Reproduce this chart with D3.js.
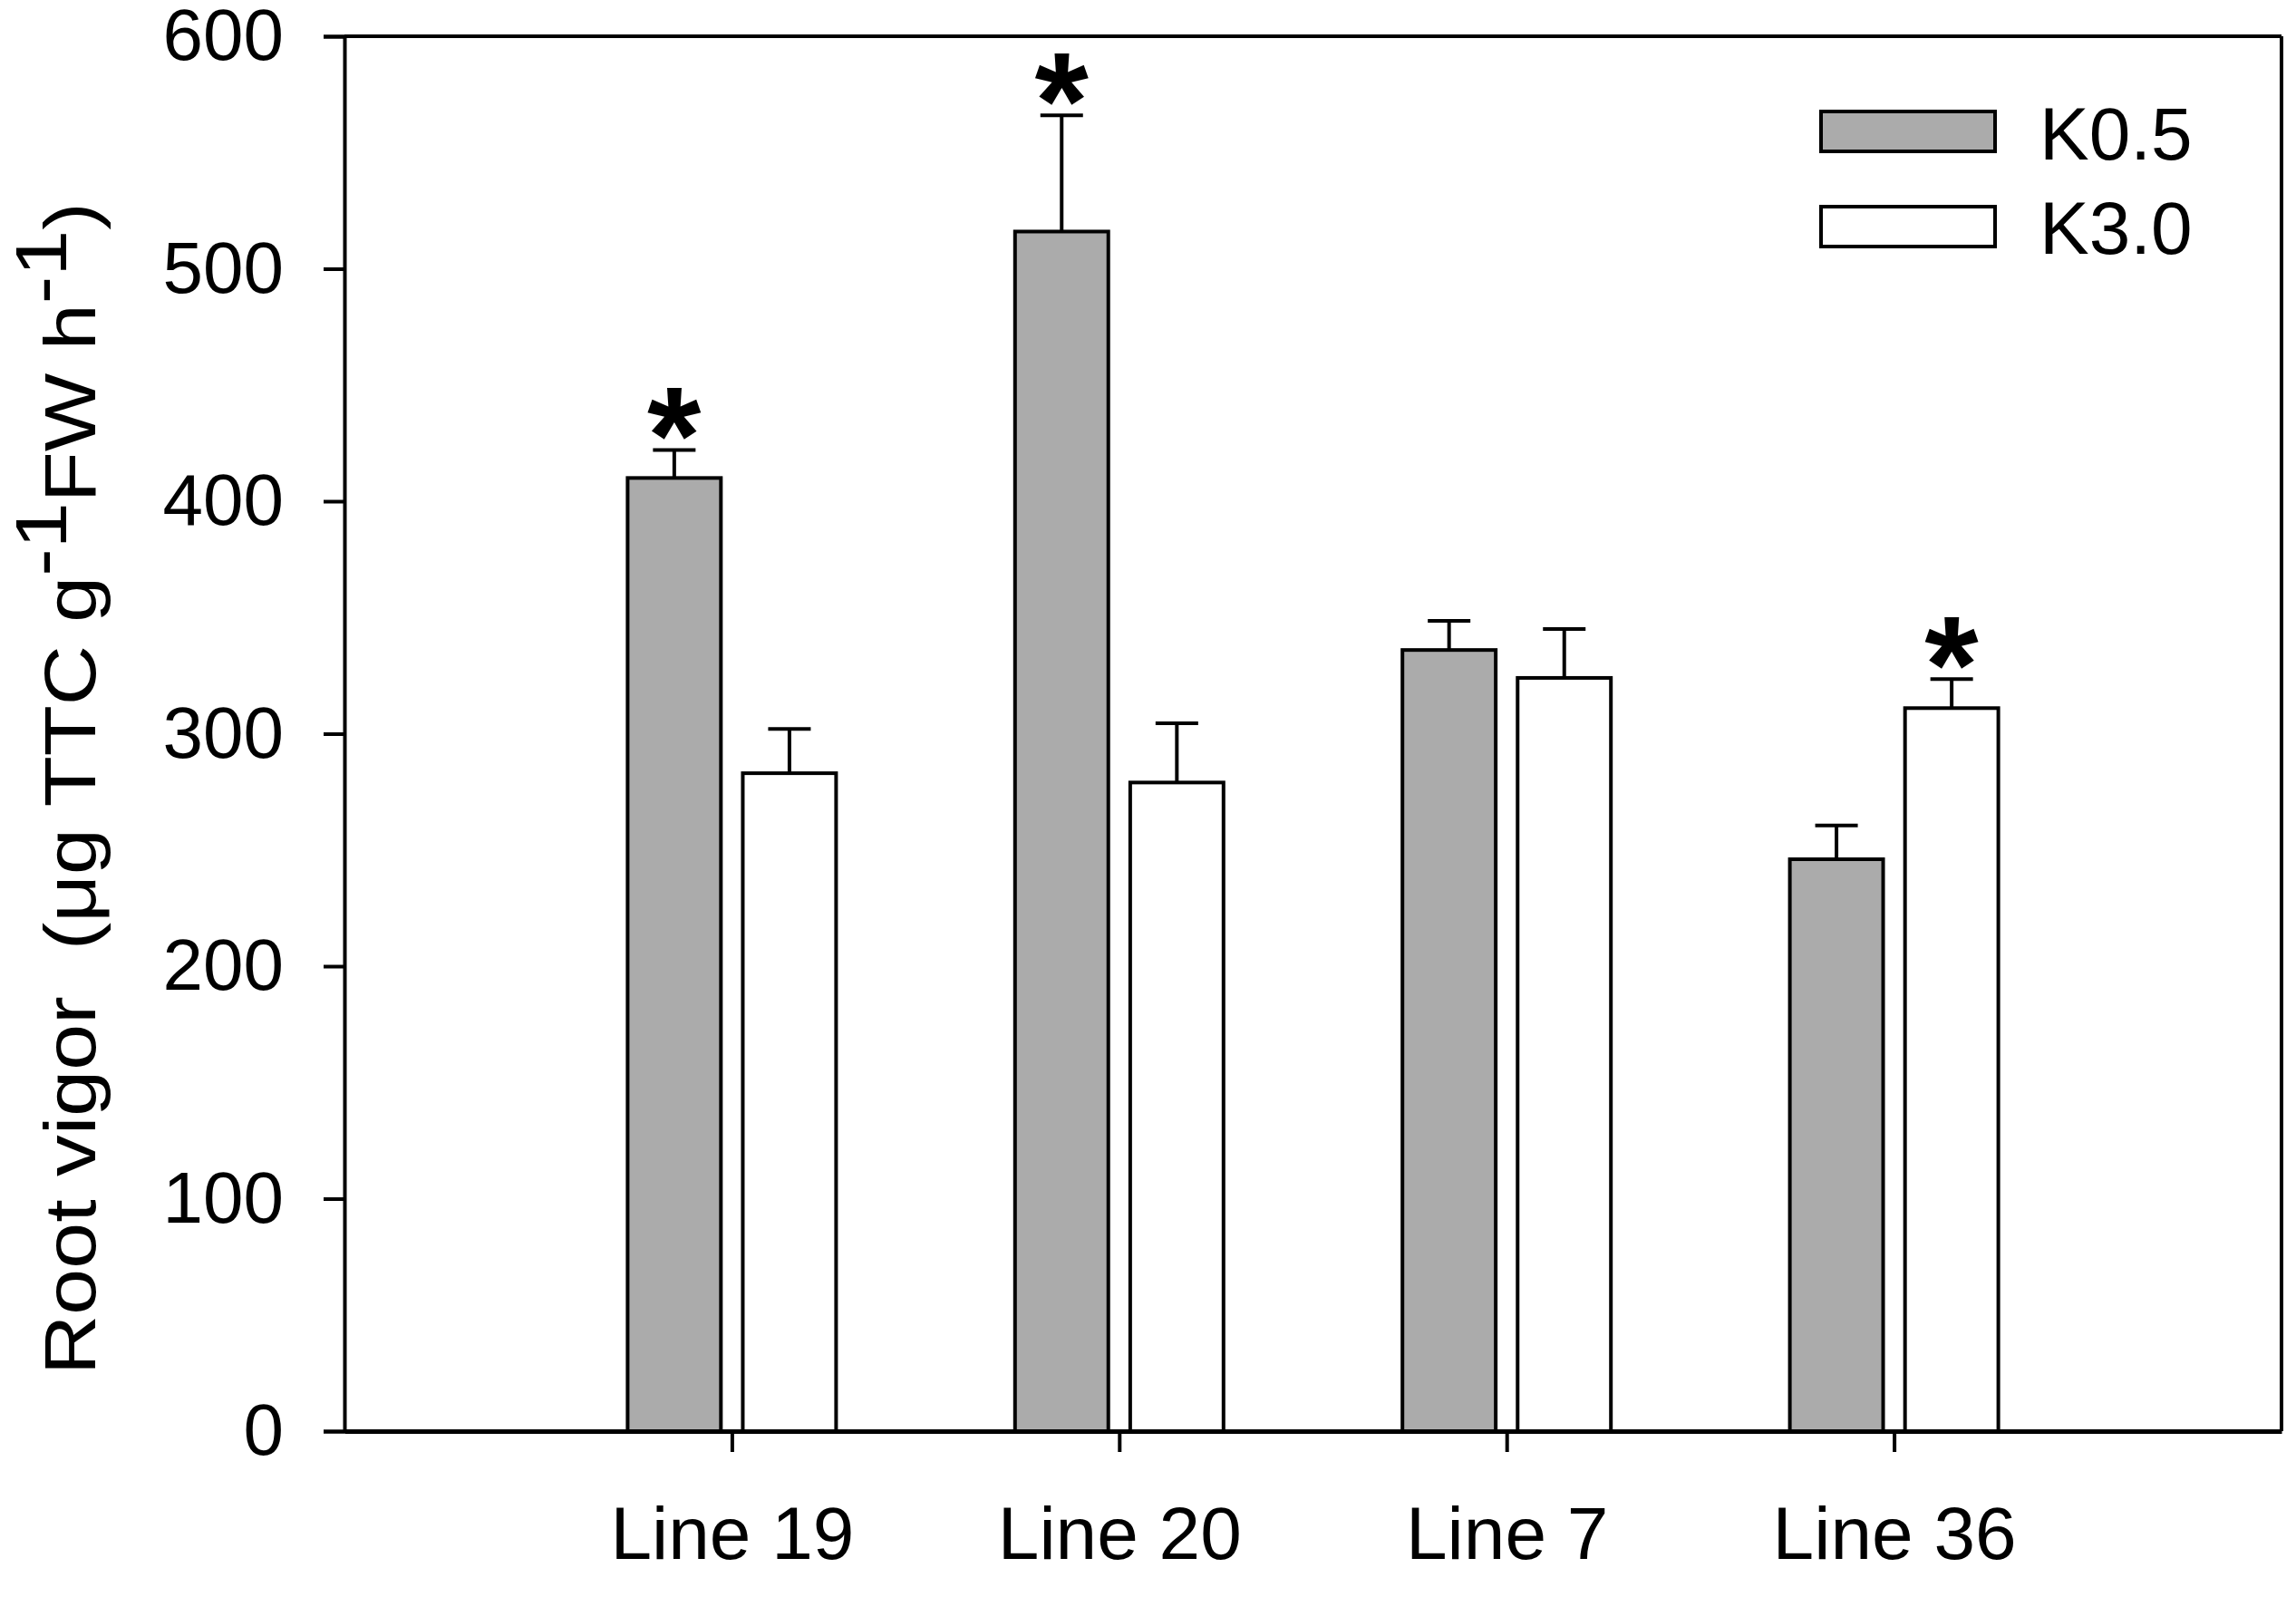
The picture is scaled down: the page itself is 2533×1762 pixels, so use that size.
<!DOCTYPE html>
<html>
<head>
<meta charset="utf-8">
<script src="https://cdn.jsdelivr.net/npm/d3@7/dist/d3.min.js"></script>
<style>
  html, body { margin: 0; padding: 0; background: #ffffff; }
  svg { display: block; }
  text { font-family: "Liberation Sans", Arial, sans-serif; fill: #000; }
</style>
</head>
<body>
<svg id="chart" width="2533" height="1762"></svg>
<script>
// ---------------- data ----------------
const categories = ["Line 19", "Line 20", "Line 7", "Line 36"];
const seriesNames = ["K0.5", "K3.0"];
const k05Values = [410, 516, 336, 246];
const k05Errors = [12, 50, 12.5, 14.5];
const k30Values = [283, 279, 324, 311];
const k30Errors = [19, 25.5, 21, 12.5];
const k05Signif = [true, true, false, false];
const k30Signif = [false, false, false, true];
const yTicks = [0, 100, 200, 300, 400, 500, 600];
const yLabelMain = "Root vigor  (\u03BCg TTC g";
const seriesFill = ["#ababab", "#ffffff"];

// ---------------- layout ----------------
const W = 2533, H = 1762;
const plot = { left: 380, right: 2517, top: 40, bottom: 1579 };
const svg = d3.select("#chart");
svg.append("rect").attr("width", W).attr("height", H).attr("fill", "#fff");

const y = d3.scaleLinear().domain([0, 600]).range([plot.bottom, plot.top]);
const x = d3.scaleLinear().domain([0, categories.length + 1]).range([plot.left, plot.right]);
const inner = d3.scaleBand().domain(seriesNames).range([-115, 115]).paddingInner(0.19).paddingOuter(0);

const rows = [];
categories.forEach((c, i) => {
  rows.push({ cat: c, i, s: 0, v: k05Values[i], e: k05Errors[i], sig: k05Signif[i] });
  rows.push({ cat: c, i, s: 1, v: k30Values[i], e: k30Errors[i], sig: k30Signif[i] });
});
const barX = d => x(d.i + 1) + inner(seriesNames[d.s]);
const barC = d => barX(d) + inner.bandwidth() / 2;

// frame (top & right)
svg.append("line").attr("x1", plot.left).attr("x2", plot.right).attr("y1", plot.top).attr("y2", plot.top)
  .attr("stroke", "#000").attr("stroke-width", 4);
svg.append("line").attr("x1", plot.right).attr("x2", plot.right).attr("y1", plot.top).attr("y2", plot.bottom)
  .attr("stroke", "#000").attr("stroke-width", 4);

// error bars
const eb = svg.append("g").attr("stroke", "#000").attr("stroke-width", 4);
eb.selectAll("line.v").data(rows).join("line").attr("class", "v")
  .attr("x1", barC).attr("x2", barC).attr("y1", d => y(d.v)).attr("y2", d => y(d.v + d.e));
eb.selectAll("line.c").data(rows).join("line").attr("class", "c")
  .attr("x1", d => barC(d) - 23.5).attr("x2", d => barC(d) + 23.5)
  .attr("y1", d => y(d.v + d.e)).attr("y2", d => y(d.v + d.e));

// bars
svg.append("g").selectAll("rect").data(rows).join("rect")
  .attr("x", barX).attr("width", inner.bandwidth())
  .attr("y", d => y(d.v)).attr("height", d => y(0) - y(d.v))
  .attr("fill", d => seriesFill[d.s]).attr("stroke", "#000").attr("stroke-width", 4);

// axes
const yAxis = d3.axisLeft(y).tickValues(yTicks).tickSize(23).tickPadding(44).tickFormat(d3.format("d"));
const gy = svg.append("g").attr("transform", `translate(${plot.left},0)`).call(yAxis);
gy.select(".domain").attr("stroke-width", 4);
gy.selectAll(".tick line").attr("stroke-width", 4);
gy.selectAll(".tick text").attr("font-size", 80).attr("font-family", "Liberation Sans, Arial, sans-serif").attr("fill", "#000");

const xAxis = d3.axisBottom(x).tickValues(categories.map((c, i) => i + 1))
  .tickFormat((d) => categories[d - 1]).tickSize(23).tickPadding(60).tickSizeOuter(0);
const gx = svg.append("g").attr("transform", `translate(0,${plot.bottom})`).call(xAxis);
gx.select(".domain").attr("stroke-width", 5);
gx.selectAll(".tick line").attr("stroke-width", 4);
gx.selectAll(".tick text").attr("font-size", 82).attr("font-family", "Liberation Sans, Arial, sans-serif").attr("fill", "#000");

// significance asterisks (sized by measured ink)
const ctx = document.createElement("canvas").getContext("2d");
ctx.font = 'bold 100px "Liberation Sans"';
const m = ctx.measureText("*");
const inkH = m.actualBoundingBoxAscent + m.actualBoundingBoxDescent;
const astSize = 100 * 58 / inkH;
const k = astSize / 100;
svg.append("g").selectAll("text").data(rows.filter(d => d.sig)).join("text")
  .attr("x", d => barC(d) - k * (m.actualBoundingBoxRight - m.actualBoundingBoxLeft) / 2 + k * m.actualBoundingBoxLeft)
  .attr("y", d => y(d.v + d.e) - 11 - k * m.actualBoundingBoxDescent)
  .attr("font-size", astSize).attr("font-weight", "bold").text("*");

// legend
const leg = svg.append("g");
seriesNames.forEach((s, i) => {
  leg.append("rect").attr("x", 2009).attr("y", 123 + i * 105).attr("width", 192).attr("height", 44)
    .attr("fill", seriesFill[i]).attr("stroke", "#000").attr("stroke-width", 4);
  leg.append("text").attr("x", 2250).attr("y", 176 + i * 104).attr("font-size", 82).text(s);
});

// y label
const yl = svg.append("text").attr("font-size", 80).style("white-space", "pre");
yl.append("tspan").text(yLabelMain);
yl.append("tspan").attr("dy", -32).text("-1");
yl.append("tspan").attr("dy", 32).text("FW h");
yl.append("tspan").attr("dy", -32).text("-1");
yl.append("tspan").attr("dy", 32).text(")");
const len = yl.node().getComputedTextLength();
const sx = 1294 / len;
yl.attr("transform", `translate(105,1517) rotate(-90) scale(${sx},1)`);
</script>
</body>
</html>
